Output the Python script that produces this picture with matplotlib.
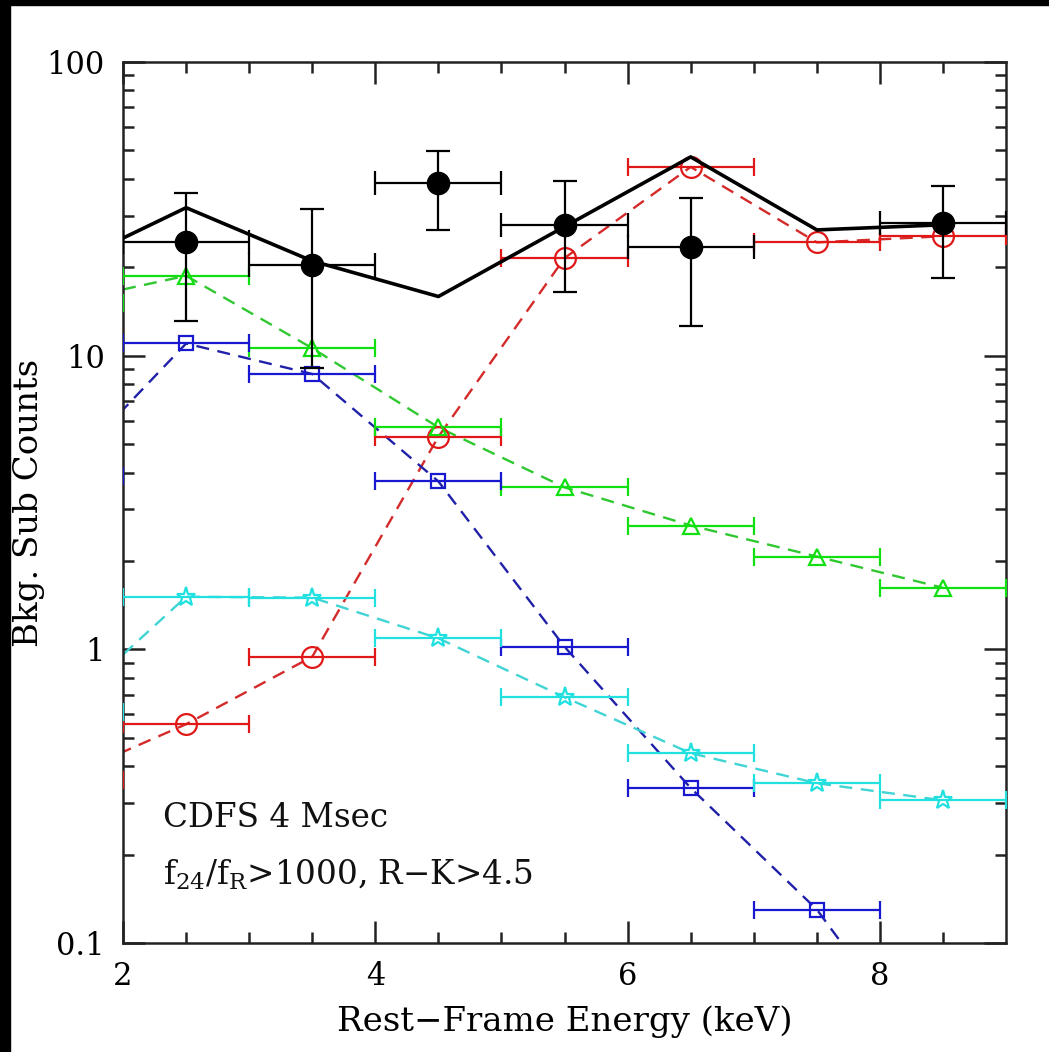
import matplotlib
matplotlib.use("Agg")
import matplotlib.pyplot as plt
from matplotlib.patches import Rectangle

plt.rcParams['font.family'] = ['DejaVu Serif', 'DejaVu Sans']
plt.rcParams['mathtext.fontset'] = 'dejavuserif'

# bin centres (keV), 1 keV wide bins
energy = [1.5, 2.5, 3.5, 4.5, 5.5, 6.5, 7.5, 8.5]

# background-subtracted counts with errors
obs_e = [2.5, 3.5, 4.5, 5.5, 6.5, 8.5]
obs_counts = [24.4, 20.4, 38.8, 27.9, 23.5, 28.3]
obs_hi = [35.8, 31.6, 49.9, 39.2, 34.4, 37.9]
obs_lo = [13.1, 9.1, 26.8, 16.5, 12.6, 18.4]

# model components
comp_red = [0.36, 0.556, 0.944, 5.30, 21.5, 43.9, 24.3, 25.5]
comp_green = [15.1, 18.7, 10.6, 5.70, 3.56, 2.64, 2.07, 1.62]
comp_blue = [3.9, 11.0, 8.66, 3.73, 1.02, 0.337, 0.130, 0.034]
comp_cyan = [0.61, 1.51, 1.50, 1.09, 0.687, 0.443, 0.350, 0.306]
model_total = [19.8, 31.9, 21.0, 15.9, 27.5, 47.5, 26.8, 27.9]

fig = plt.figure(figsize=(10.49, 10.52), dpi=100)
ax = fig.add_axes([0.1173, 0.1036, 0.8418, 0.8375])

comps = [
    (comp_red, '#e01818', '#d42a2a', 'o', 15),
    (comp_green, '#10e010', '#30c830', '^', 11),
    (comp_blue, '#1818d0', '#2020a8', 's', 10),
    (comp_cyan, '#20e0e0', '#40d4d4', '*', 14),
]
for vals, col, dcol, mk, ms in comps:
    ax.plot(energy, vals, color=dcol, lw=1.7, dashes=(5.5, 3.6), zorder=2)
    # first bin sits left of the axis; only its cap shows on the spine
    ax.errorbar(energy, vals, xerr=0.5, fmt='none', ecolor=col,
                elinewidth=1.6, capsize=6.5, capthick=1.6, zorder=3)
    ax.plot(energy[1:], vals[1:], ls='none', marker=mk, ms=ms, mfc='none',
            mec=col, mew=1.6, zorder=4)

ax.plot(energy, model_total, color='black', lw=2.6, zorder=5)

yerr = [[c - l for c, l in zip(obs_counts, obs_lo)],
        [h - c for c, h in zip(obs_counts, obs_hi)]]
ax.errorbar(obs_e, obs_counts, xerr=0.5, yerr=yerr, fmt='o', color='black',
            ms=16, elinewidth=1.6, capsize=8.5, capthick=1.6, zorder=6)

ax.set_yscale('log')
ax.set_xlim(2, 9)
ax.set_ylim(0.1, 100)

ax.set_xticks([2, 4, 6, 8])
ax.set_xticks([2.5, 3, 3.5, 4.5, 5, 5.5, 6.5, 7, 7.5, 8.5], minor=True)
ax.set_yticks([0.1, 1, 10, 100])
ax.set_yticklabels(['0.1', '1', '10', '100'])
ax.tick_params(which='both', direction='in', top=True, right=True,
               labelsize=22, width=1.8, color='#222222')
ax.tick_params(which='major', length=16, pad=13)
ax.tick_params(which='minor', length=8)
for sp in ax.spines.values():
    sp.set_linewidth(1.8)
    sp.set_color('#222222')

ax.set_xlabel('Rest\u2212Frame Energy (keV)', fontsize=24.5)
ax.set_ylabel('Bkg. Sub Counts', fontsize=24.5)
ax.xaxis.set_label_coords(0.5, -0.071)
ax.yaxis.set_label_coords(-0.088, 0.5)

ax.text(0.045, 0.132, 'CDFS 4 Msec', transform=ax.transAxes,
        fontsize=23.5, va='baseline', color='#111111')
ax.text(0.045, 0.066, r'f$_{24}$/f$_{\rm R}$>1000, R$-$K>4.5',
        transform=ax.transAxes, fontsize=23.5, va='baseline', color='#111111')

# black frame strips along the top and left edges
fig.patches.append(Rectangle((0, 1 - 5 / 1052), 1, 5 / 1052,
                             transform=fig.transFigure, color='black'))
fig.patches.append(Rectangle((0, 0), 10 / 1049, 1,
                             transform=fig.transFigure, color='black'))

fig.savefig('out.png', dpi=100, facecolor='white')
